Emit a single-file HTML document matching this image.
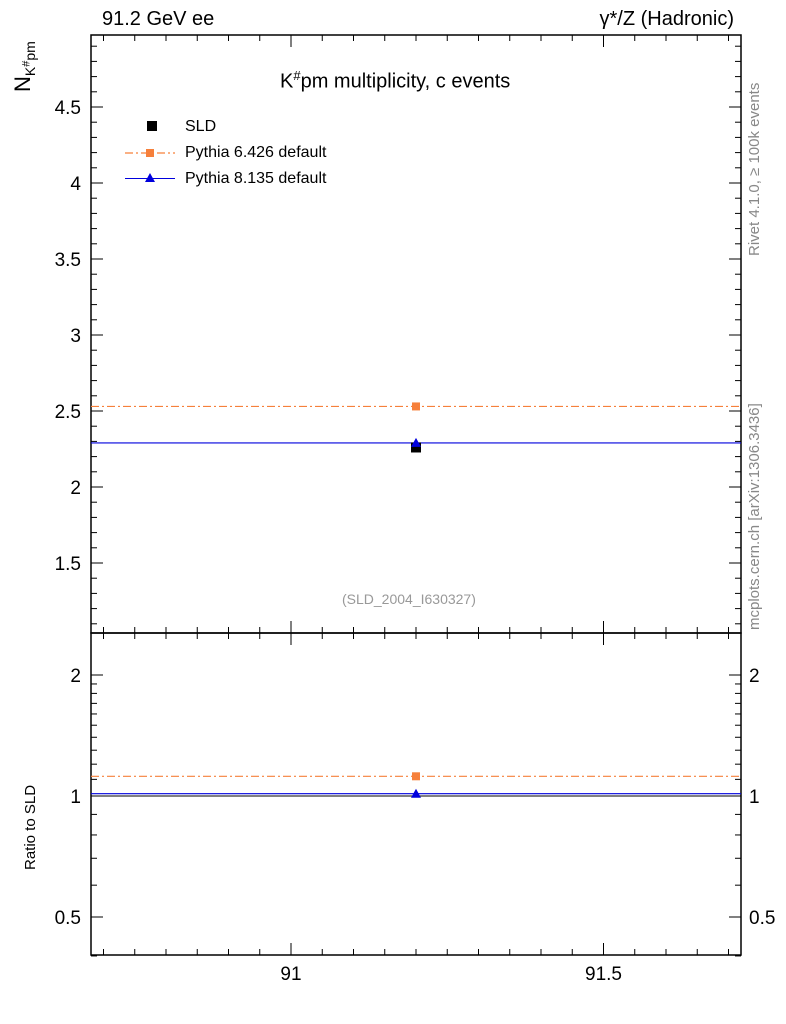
<!DOCTYPE html>
<html><head><meta charset="utf-8"><style>
body{margin:0;background:#fff;}
svg{display:block;font-family:"Liberation Sans",sans-serif;}
</style></head><body>
<svg id="c" width="786" height="1024"></svg>
<script>
const categories=[91.2];
const sldValues=[2.26];
const py6Values=[2.53];
const py8Values=[2.29];
const xTicks=[91,91.5];
const yTicks=[1.5,2,2.5,3,3.5,4,4.5];
const rTicks=[0.5,1,2];
const NS="http://www.w3.org/2000/svg";
const svg=document.getElementById('c');
function mk(t,a,p){const e=document.createElementNS(NS,t);for(const k in a)e.setAttribute(k,a[k]);(p||svg).appendChild(e);return e;}
const L=91,R=741,T=35,M=633,B=955;
const xMin=90.68,xMax=91.72;
const X=v=>L+(v-xMin)/(xMax-xMin)*(R-L);
const Y=v=>487-(v-2)*152;
const RY=v=>796-Math.log2(v)*121;
let f1=mk('rect',{x:L,y:T,width:R-L,height:M-T,fill:'none',stroke:'#000','stroke-width':1.5});


let f2=mk('rect',{x:L,y:M,width:R-L,height:B-M,fill:'none',stroke:'#000','stroke-width':1.5});


function line(x1,y1,x2,y2,s,w,d){return mk('line',{x1,y1,x2,y2,stroke:s||'#000','stroke-width':w||1,'stroke-dasharray':d||'none'});}
for(let i=0;i<=21;i++){const v=90.7+i*0.05;if(v>xMax)break;const x=X(v);const maj=Math.abs(v*2-Math.round(v*2))<1e-6;const l=maj?12:6;
 line(x,M,x,M-l);line(x,T,x,T+l);line(x,B,x,B-l);line(x,M,x,M+l);}
xTicks.forEach(v=>{const t=mk('text',{x:X(v),y:980,'font-size':19,'text-anchor':'middle'});t.textContent=v;

});
for(let v=1.1;v<=4.95;v+=0.1){const y=Y(v);const maj=Math.abs(v*2-Math.round(v*2))<1e-6;const l=maj?12:6;line(L,y,L+l,y);line(R,y,R-l,y);}
yTicks.forEach(v=>{const t=mk('text',{x:L-10,y:Y(v)+7,'font-size':19,'text-anchor':'end'});t.textContent=v;

});
[0.4,0.5,0.6,0.7,0.8,0.9,1,2].forEach(v=>{const y=RY(v);const maj=rTicks.includes(v);const l=maj?12:6;line(L,y,L+l,y);line(R,y,R-l,y);});
[1.1,1.2,1.3,1.4,1.5,1.6,1.7,1.8,1.9].forEach(v=>{const y=RY(v);line(L,y,L+6,y);line(R,y,R-6,y);});
rTicks.forEach(v=>{const t=mk('text',{x:L-10,y:RY(v)+7,'font-size':19,'text-anchor':'end'});t.textContent=v;


const t2=mk('text',{x:R+8,y:RY(v)+7,'font-size':19});t2.textContent=v;

});
const OR='#f6803b',BL='#0000dd';
categories.forEach((cat,i)=>{
 const cx=X(cat);
 let a=line(L,Y(py6Values[i]),R,Y(py6Values[i]),OR,1.2,'8,3,2,3');
 
 
 let b=line(L,Y(py8Values[i]),R,Y(py8Values[i]),BL,1.2);
 
 
 let s=mk('rect',{x:cx-5,y:Y(sldValues[i])-5,width:10,height:10,fill:'#000'});
 
 
 let p6=mk('rect',{x:cx-4,y:Y(py6Values[i])-4,width:8,height:8,fill:OR});
 
 
 const y8=Y(py8Values[i]);
 let p8=mk('polygon',{points:`${cx-5},${y8+4} ${cx+5},${y8+4} ${cx},${y8-5}`,fill:BL});
 
 
 const r6=py6Values[i]/sldValues[i],r8=py8Values[i]/sldValues[i];
 line(L,RY(1),R,RY(1),'#000',1);
 let rl6=line(L,RY(r6),R,RY(r6),OR,1.2,'8,3,2,3');
 
 
 let rl8=line(L,RY(r8),R,RY(r8),BL,1.2);
 
 
 let q=mk('rect',{x:cx-4,y:RY(r6)-4,width:8,height:8,fill:OR});
 
 
 const yr=RY(r8);
 let q2=mk('polygon',{points:`${cx-5},${yr+4} ${cx+5},${yr+4} ${cx},${yr-5}`,fill:BL});
 
 
});
</script>
<div style="position:absolute;left:0;top:0;width:786px;height:1024px;font-family:'Liberation Sans',sans-serif;pointer-events:none">
<div style="position:absolute;left:102px;top:8px;font-size:20px">91.2 GeV ee</div>
<div style="position:absolute;right:52px;top:8px;font-size:20px">γ*/Z (Hadronic)</div>
<div style="position:absolute;left:10px;top:92px;font-size:22px;transform:rotate(-90deg);transform-origin:0 0;white-space:nowrap">N<sub style="font-size:14px">K<sup style="font-size:11px">#</sup>pm</sub></div>
<div style="position:absolute;left:280px;top:68px;font-size:20px">K<sup style="font-size:13px">#</sup>pm multiplicity, c events</div>
<div style="position:absolute;left:125px;top:114px;font-size:16px;line-height:26px">
<div><span style="display:inline-block;width:10px;height:10px;background:#000;margin:0 28px 0 22px"></span>SLD</div>
<div style="position:relative"><svg width="50" height="4" style="display:inline-block;vertical-align:middle;margin-right:10px"><line x1="0" y1="2" x2="50" y2="2" stroke="#f6803b" stroke-width="1.2" stroke-dasharray="8,3,2,3"/></svg><span style="position:absolute;left:21px;top:9px;width:8px;height:8px;background:#f6803b"></span>Pythia 6.426 default</div>
<div style="position:relative"><span style="display:inline-block;width:50px;border-top:1.2px solid #0000dd;vertical-align:middle;margin-right:10px"></span><span style="position:absolute;left:20px;top:7px;width:0;height:0;border-left:5px solid transparent;border-right:5px solid transparent;border-bottom:9px solid #0000dd"></span>Pythia 8.135 default</div>
</div>
<div style="position:absolute;left:342px;top:591px;font-size:14px;color:#999">(SLD_2004_I630327)</div>
<div style="position:absolute;left:22px;top:870px;font-size:15px;transform:rotate(-90deg);transform-origin:0 0">Ratio to SLD</div>
<div style="position:absolute;left:746px;top:256px;font-size:15px;color:#888;transform:rotate(-90deg);transform-origin:0 0;white-space:nowrap">Rivet 4.1.0, ≥ 100k events</div>
<div style="position:absolute;left:746px;top:630px;font-size:15px;color:#888;transform:rotate(-90deg);transform-origin:0 0;white-space:nowrap">mcplots.cern.ch [arXiv:1306.3436]</div>
</div>
</body></html>
